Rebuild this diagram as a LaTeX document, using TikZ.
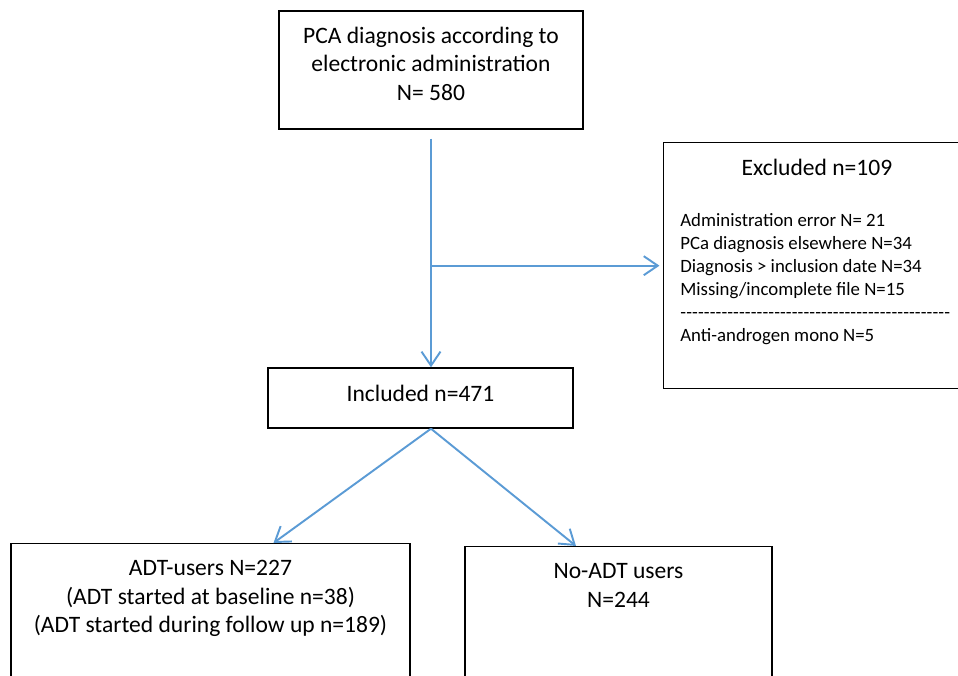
\documentclass[tikz,border=0pt]{standalone}
\usepackage{fontspec}
\setmainfont{Carlito}
\usepackage{tikz}
\usetikzlibrary{arrows.meta,positioning,calc}
\definecolor{fcblue}{HTML}{5B9BD5}

\begin{document}
\begin{tikzpicture}[x=0.02cm,y=-0.02cm,
    box/.style={draw=black,line width=0.8pt,rectangle,inner sep=0pt},
    flow/.style={-{Straight Barb[length=2.8mm,width=3.8mm,line width=1.1pt]},line width=1.1pt,fcblue},
    big/.style={font=\fontsize{13.4}{16.2}\selectfont}]
    \useasboundingbox (0,0) rectangle (958,676);
    \clip (0,0) rectangle (958,676);
    \node[box,big,align=center,minimum width=6.08cm,minimum height=2.36cm,text depth=0.25cm] (pca) at (431,70) {PCA diagnosis according to\\electronic administration\\N= 580};
    \node[box,big,minimum width=6.1cm,minimum height=1.2cm,text depth=0.2cm] (incl) at (420.5,398) {Included n=471};
    \node[box,anchor=north west,minimum width=6.24cm,minimum height=4.92cm] (excl) at (663,142) {};
    \node[big] (excltitle) at (817,167) {Excluded n=109};
    \node[anchor=north west,align=left,inner sep=0pt,font=\fontsize{10.7}{13.1}\selectfont] (excllist) at (680,213)
      {Administration error N= 21\\PCa diagnosis elsewhere N=34\\Diagnosis > inclusion date N=34\\Missing/incomplete file N=15\\\hbox to 5.4cm{\xleaders\hbox{-}\hfill}\\Anti-androgen mono N=5};
    \node[box,big,anchor=north,align=center,minimum width=7.98cm,inner ysep=0.34cm,text depth=4cm] (adt) at (210.5,543)
      {ADT-users N=227\\(ADT started at baseline n=38)\\(ADT started during follow up n=189)};
    \node[box,big,anchor=north,align=center,minimum width=6.14cm,inner ysep=0.34cm,text depth=4cm] (noadt) at (618.5,546)
      {No-ADT users\\N=244};
    \coordinate (split) at (pca.south |- incl.south);
    \draw[flow] ([yshift=-0.18cm]pca.south) -- (pca.south |- incl.north);
    \draw[flow,shorten >=2pt] (pca.south |- excl.west) -- (excl.west);
    \draw[flow] (split) -- ([xshift=1.26cm]adt.north);
    \draw[flow] (split) -- ([xshift=-0.85cm]noadt.north);
  \end{tikzpicture}
\end{document}
